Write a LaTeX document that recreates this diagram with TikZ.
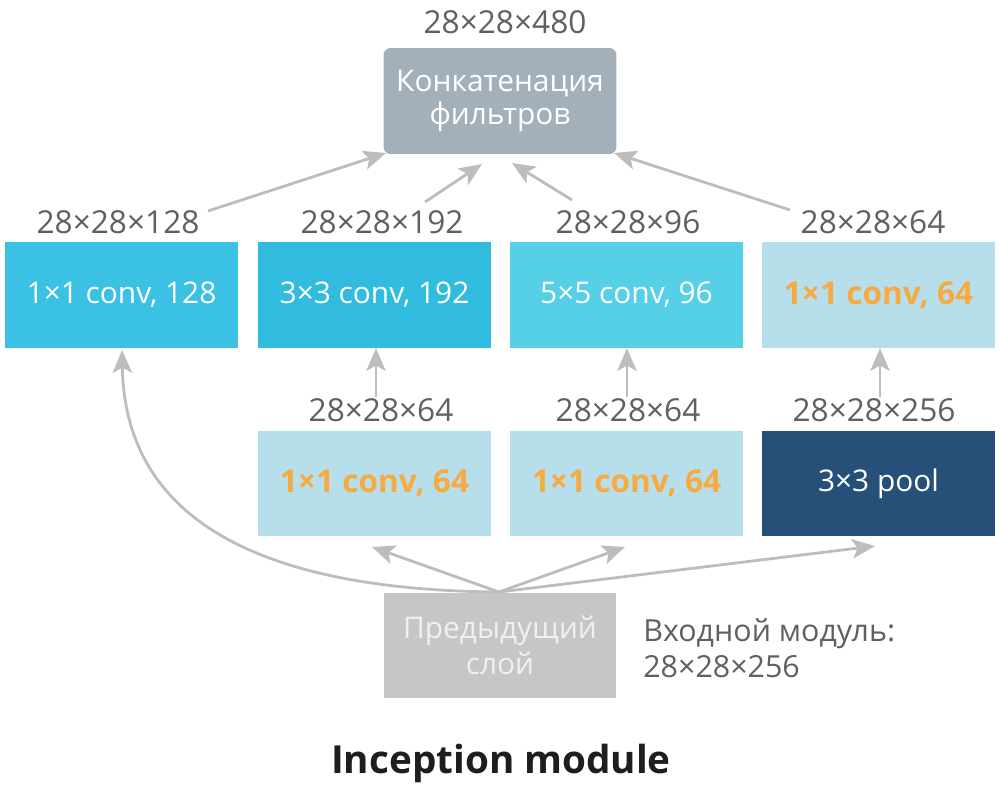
\documentclass[tikz,border=0pt]{standalone}
\usepackage{fontspec}
\setmainfont{Open Sans}
\usetikzlibrary{arrows.meta}
\definecolor{concatc}{HTML}{A3AFB9}
\definecolor{bluea}{HTML}{3AC1E4}
\definecolor{blueb}{HTML}{31BBDE}
\definecolor{bluec}{HTML}{55D0E6}
\definecolor{lightb}{HTML}{B7DFEB}
\definecolor{navy}{HTML}{265078}
\definecolor{prevc}{HTML}{C6C6C6}
\definecolor{orangec}{HTML}{F7AA3F}
\definecolor{labc}{HTML}{606060}
\definecolor{arrc}{HTML}{BDBDBD}
\definecolor{titlec}{HTML}{1E1E1E}
\tikzset{
  boxn/.style={minimum width=4.66cm, minimum height=2.12cm, inner sep=0pt, outer sep=0pt, font=\fontsize{17}{20.5}\selectfont, text=white},
  orangetxt/.style={text=orangec, font=\fontsize{18}{21}\selectfont\bfseries},
  dimlab/.style={text=labc, font=\fontsize{18}{20.5}\selectfont, inner sep=0pt},
  arr/.style={draw=arrc, line width=1.6pt, -{Stealth[length=13pt, width=11pt, inset=3pt]}}
}
\begin{document}
\begin{tikzpicture}[x=0.02cm,y=-0.02cm]
\useasboundingbox (0,0) rectangle (1000,790);
% top concat
\node[boxn, fill=concatc, rounded corners=4pt, align=center] (concat) at (500,101) {\raisebox{-2pt}{Конкатенация}\\фильтров};
\node[dimlab] (l480) at (505,22) {28×28×480};
% row 1
\node[boxn, fill=bluea] (b1) at (121.5,295) {1×1 conv, 128};
\node[boxn, fill=blueb] (b2) at (374.5,295) {3×3 conv, 192};
\node[boxn, fill=bluec] (b3) at (626.5,295) {5×5 conv, 96};
\node[boxn, fill=lightb, orangetxt] (b4) at (878.5,295) {1×1 conv, 64};
\node[dimlab] (l128) at (118,222) {28×28×128};
\node[dimlab] (l192) at (382,222) {28×28×192};
\node[dimlab] (l96) at (628,222) {28×28×96};
\node[dimlab] (l64) at (873,222) {28×28×64};
% row 2
\node[boxn, fill=lightb, orangetxt] (c2) at (374.5,483.5) {1×1 conv, 64};
\node[boxn, fill=lightb, orangetxt] (c3) at (626.5,483.5) {1×1 conv, 64};
\node[boxn, fill=navy] (c4) at (878.5,483.5) {3×3 pool};
\node[dimlab] (m2) at (381,410) {28×28×64};
\node[dimlab] (m3) at (628,410) {28×28×64};
\node[dimlab] (m4) at (874,410) {28×28×256};
% previous layer
\node[boxn, fill=prevc, text=white!94!black, align=center] (prev) at (500,645.5) {Предыдущий\\слой};
\node[dimlab, anchor=west, align=left, font=\fontsize{17.3}{20.5}\selectfont] (inp) at (643,648) {Входной модуль:\\28×28×256};
\node[text=titlec, font=\fontsize{22}{26}\selectfont\bfseries, inner sep=0pt] (title) at (501,763) {Inception module};
% arrows to concat
\coordinate (s1) at (208,211);
\coordinate (s2) at (425,202);
\coordinate (s3) at (572,200);
\coordinate (s4) at (790,210);
\coordinate (t1) at (386,153);
\coordinate (t2) at (482,164);
\coordinate (t3) at (512,163);
\coordinate (t4) at (614,153);
\draw[arr] (s1) -- (t1);
\draw[arr] (s2) -- (t2);
\draw[arr] (s3) -- (t3);
\draw[arr] (s4) -- (t4);
% vertical arrows
\coordinate (v2) at (376,397);
\coordinate (v3) at (627,397);
\coordinate (v4) at (880,397);
\draw[arr] (v2) -- (v2 |- b2.south);
\draw[arr] (v3) -- (v3 |- b3.south);
\draw[arr] (v4) -- (v4 |- b4.south);
% from prev
\coordinate (p0) at (499,592);
\coordinate (e2) at (372,547);
\coordinate (e3) at (625,547);
\coordinate (e4) at (875,546);
\draw[arr] (p0) .. controls (260,590) and (125,520) .. (122,350);
\draw[arr] (p0) -- (e2);
\draw[arr] (p0) -- (e3);
\draw[arr] (p0) -- (e4);
\end{tikzpicture}
\end{document}
